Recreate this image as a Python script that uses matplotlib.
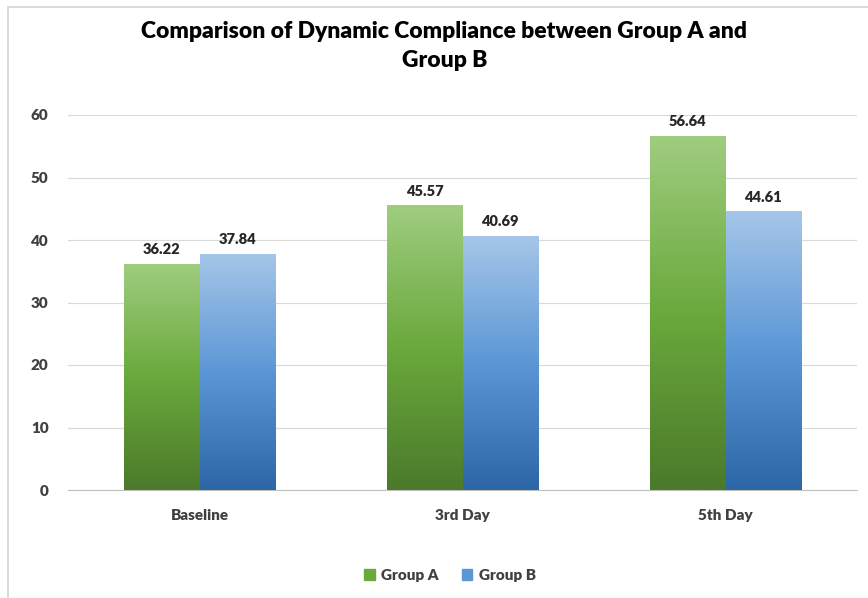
import numpy as np
import matplotlib.pyplot as plt
from matplotlib.colors import LinearSegmentedColormap
from matplotlib.patches import Rectangle

categories = ['Baseline', '3rd Day', '5th Day']
group_a = [36.22, 45.57, 56.64]
group_b = [37.84, 40.69, 44.61]
series_names = ['Group A', 'Group B']

plt.rcParams['font.family'] = ['Lato', 'DejaVu Sans']

fig = plt.figure(figsize=(8.68, 5.98), dpi=100)
W, H = 868, 598
ax = fig.add_axes([68 / W, 1 - 490 / H, 789 / W, 375 / H])

# light frame of the chart area
fig.patches.append(Rectangle((8 / W, -0.1), 1.2, 1 - 7 / H + 0.1, transform=fig.transFigure,
                             fill=False, edgecolor='#d4d4d4', linewidth=1.2))

green = LinearSegmentedColormap.from_list('g', ['#4b7a2a', '#6aa93c', '#9fcd7f'])
blue = LinearSegmentedColormap.from_list('b', ['#2c66a6', '#5b97d6', '#a6c6e8'])

x = np.arange(len(categories))
w = 0.287
grad = np.linspace(0, 1, 256).reshape(-1, 1)
WT = 'heavy'

for vals, off, cmap in [(group_a, -w / 2, green), (group_b, w / 2, blue)]:
    bars = ax.bar(x + off, vals, w, color='none', edgecolor='none', zorder=3)
    for b, v in zip(bars, vals):
        x0 = b.get_x()
        im = ax.imshow(grad, cmap=cmap, aspect='auto', origin='lower',
                       extent=[x0, x0 + w, 0, v], zorder=3)
        im.set_clip_path(b)
        ax.text(x0 + w / 2, v + 1.2, f'{v:.2f}', ha='center', va='bottom',
                fontsize=10.5, fontweight=WT, color='#262626')

ax.set_xlim(-0.5, 2.5)
ax.set_ylim(0, 60)
ax.set_yticks(range(0, 61, 10))
ax.set_xticks(x)
ax.set_xticklabels(categories)
ax.grid(axis='y', color='#d9d9d9', linewidth=0.8, zorder=0)
for s in ['top', 'right', 'left']:
    ax.spines[s].set_visible(False)
ax.spines['bottom'].set_color('#bfbfbf')
ax.tick_params(axis='both', length=0, labelsize=11, colors='#404040')
ax.tick_params(axis='x', pad=14)
ax.tick_params(axis='y', pad=14)
for lab in ax.get_xticklabels() + ax.get_yticklabels():
    lab.set_fontweight(WT)

fig.text(0.512, 1 - 46 / H, 'Comparison of Dynamic Compliance between Group A and\nGroup B',
         ha='center', va='center', fontsize=16.5, fontweight=WT, color='#000000',
         linespacing=1.45)

handles = [Rectangle((0, 0), 1, 1, color='#6aa93c'), Rectangle((0, 0), 1, 1, color='#5b97d6')]
leg = fig.legend(handles, series_names, loc='center', bbox_to_anchor=(450 / W, 1 - 575 / H),
                 ncol=2, frameon=False, handlelength=0.7, handleheight=0.7,
                 handletextpad=0.4, columnspacing=1.5,
                 prop={'weight': WT, 'size': 11})
for t in leg.get_texts():
    t.set_color('#404040')

fig.savefig('out.png', dpi=100)
